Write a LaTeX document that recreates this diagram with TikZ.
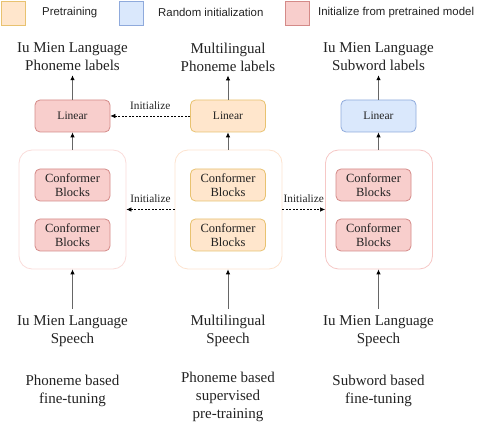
\documentclass[tikz,border=0pt]{standalone}
\usepackage{fontspec}
\setmainfont{Liberation Serif}
\newfontfamily\legendfont{Liberation Sans}
\usetikzlibrary{arrows.meta}
\definecolor{orfill}{HTML}{FFE6CC}
\definecolor{ordraw}{HTML}{E8C270}
\definecolor{blfill}{HTML}{DAE8FC}
\definecolor{bldraw}{HTML}{8FAADC}
\definecolor{rdfill}{HTML}{F8CECC}
\definecolor{rddraw}{HTML}{D48A88}
\definecolor{contor}{HTML}{FDE3CF}
\definecolor{contrdA}{HTML}{FADCDA}
\definecolor{contrdB}{HTML}{F6C8C6}
\definecolor{txt}{HTML}{222222}
\tikzset{
  legbox/.style={draw, line width=0.8pt, minimum width=24pt, minimum height=24pt, inner sep=0pt},
  legtext/.style={font=\legendfont\fontsize{11.4}{13}\selectfont, text=txt, anchor=west, inner sep=0pt},
  linbox/.style={draw, line width=0.8pt, rounded corners=5pt, minimum width=75pt, minimum height=32pt, inner sep=0pt, font=\fontsize{11.5}{13}\selectfont, text=txt},
  confbox/.style={draw, line width=0.8pt, rounded corners=5pt, minimum width=75pt, minimum height=32pt, inner sep=0pt, align=center, font=\fontsize{12.5}{14}\selectfont, text=txt},
  container/.style={draw, line width=0.8pt, rounded corners=13pt, fill=white, minimum width=107pt, minimum height=119pt, inner sep=0pt},
  bigtext/.style={align=center, font=\fontsize{15}{18}\selectfont, text=txt, inner sep=0pt},
  inittext/.style={font=\fontsize{11.3}{13}\selectfont, text=txt, inner sep=0pt},
  uparrow/.style={draw=black!60, line width=0.8pt, -{Latex[length=5pt,width=4.5pt,black]}},
  initarrow/.style={draw=black, line width=0.6pt, dash pattern=on 2pt off 1.5pt, -{Latex[length=5pt,width=4.5pt]}}
}
\begin{document}
\begin{tikzpicture}[x=1pt,y=-1pt]
\useasboundingbox (0,0) rectangle (480,427);
% legend
\node[legbox, fill=orfill, draw=ordraw] (lg1) at (13,13) {};
\node[legtext] (lt1) at (42,12.5) {Pretraining};
\node[legbox, fill=blfill, draw=bldraw] (lg2) at (131.5,13) {};
\node[legtext] (lt2) at (158,12.5) {Random initialization};
\node[legbox, fill=rdfill, draw=rddraw] (lg3) at (297.5,13) {};
\node[legtext] (lt3) at (318,12.5) {Initialize from pretrained model};

% top labels
\node[bigtext] (tl1) at (72.5,57) {Iu Mien Language\\Phoneme labels};
\node[bigtext] (tl2) at (228,57) {Multilingual\\Phoneme labels};
\node[bigtext] (tl3) at (378.5,57) {Iu Mien Language\\Subword labels};

% linear boxes
\node[linbox, fill=rdfill, draw=rddraw] (lin1) at (72.5,116) {Linear};
\node[linbox, fill=orfill, draw=ordraw] (lin2) at (228,116) {Linear};
\node[linbox, fill=blfill, draw=bldraw] (lin3) at (378.5,116) {Linear};

% containers
\node[container, draw=contrdA] (c1) at (72.5,209.5) {};
\node[container, draw=contor] (c2) at (228.5,209.5) {};
\node[container, draw=contrdB] (c3) at (379,209.5) {};

% conformer blocks
\node[confbox, fill=rdfill, draw=rddraw] (a1) at (72.5,185) {Conformer\\Blocks};
\node[confbox, fill=rdfill, draw=rddraw] (b1) at (72.5,235) {Conformer\\Blocks};
\node[confbox, fill=orfill, draw=ordraw] (a2) at (228,185) {Conformer\\Blocks};
\node[confbox, fill=orfill, draw=ordraw] (b2) at (228,235) {Conformer\\Blocks};
\node[confbox, fill=rdfill, draw=rddraw] (a3) at (373.5,185) {Conformer\\Blocks};
\node[confbox, fill=rdfill, draw=rddraw] (b3) at (373.5,235) {Conformer\\Blocks};

% input labels
\node[bigtext] (in1) at (72.5,331) {Iu Mien Language\\Speech};
\node[bigtext] (in2) at (228,331) {Multilingual\\Speech};
\node[bigtext] (in3) at (378.5,331) {Iu Mien Language\\Speech};

% bottom captions
\node[bigtext] (bc1) at (72.5,391) {Phoneme based\\fine-tuning};
\node[bigtext] (bc2) at (228,397) {Phoneme based\\supervised\\pre-training};
\node[bigtext] (bc3) at (378.5,391) {Subword based\\fine-tuning};

% arrows from inputs to containers
\draw[uparrow] ([yshift=6pt]in1.north) -- (c1.south -| in1.north);
\draw[uparrow] ([yshift=6pt]in2.north) -- (c2.south -| in2.north);
\draw[uparrow] ([yshift=6pt]in3.north) -- (c3.south -| in3.north);
% containers to linear
\draw[uparrow] (c1.north -| lin1.south) -- (lin1.south);
\draw[uparrow] (c2.north -| lin2.south) -- (lin2.south);
\draw[uparrow] (c3.north -| lin3.south) -- (lin3.south);
% linear to labels
\draw[uparrow] (lin1.north) -- ([yshift=-4pt]tl1.south);
\draw[uparrow] (lin2.north) -- ([yshift=-4pt]tl2.south);
\draw[uparrow] (lin3.north) -- ([yshift=-4pt]tl3.south);

% initialize arrows
\draw[initarrow] (lin2.west) -- node[inittext, above=6pt] (i1) {Initialize} (lin1.east);
\draw[initarrow] (c2.west) -- node[inittext, above=7pt] (i2) {Initialize} (c1.east);
\draw[initarrow] (c2.east) -- node[inittext, above=7pt] (i3) {Initialize} (c3.west);
\end{tikzpicture}
\end{document}
